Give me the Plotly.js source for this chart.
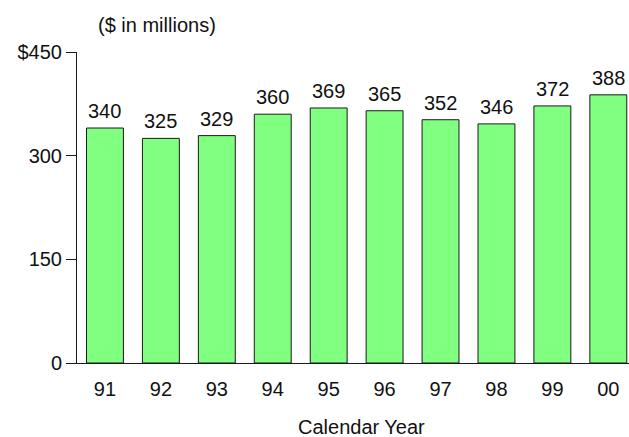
<!DOCTYPE html>
<html>
<head>
<meta charset="utf-8">
<script src="https://cdn.plot.ly/plotly-3.0.1.min.js"></script>
<style>
  html, body { margin: 0; padding: 0; background: #ffffff; }
  #chart { width: 629px; height: 437px; }
</style>
</head>
<body>
<div id="chart"></div>
<script>
// Annual amounts by calendar year ($ in millions)
var years = ['91', '92', '93', '94', '95', '96', '97', '98', '99', '00'];
var amounts = [340, 325, 329, 360, 369, 365, 352, 346, 372, 388];
var yTickVals = [0, 150, 300, 450];
var yTickText = ['0', '150', '300', '$450'];

var FONT = 'Liberation Sans, Arial, Helvetica, sans-serif';

var bars = {
  type: 'bar',
  x: years,
  y: amounts,
  width: 0.66,
  marker: { color: '#80ff80', line: { color: '#1a1a1a', width: 1 } },
  hoverinfo: 'x+y'
};

// value labels sitting just above each bar (x given as category index,
// since the year strings look numeric)
var labels = years.map(function (yr, i) {
  return {
    x: i, y: amounts[i], xref: 'x', yref: 'y',
    text: String(amounts[i]),
    showarrow: false, yanchor: 'bottom', yshift: 4,
    font: { family: FONT, size: 20, color: '#111111' }
  };
});

// x-axis caption below the year labels
labels.push({
  text: 'Calendar Year',
  xref: 'paper', yref: 'paper',
  x: 0.5145, y: -0.206,
  xanchor: 'center', yanchor: 'middle',
  showarrow: false,
  font: { family: FONT, size: 20, color: '#111111' }
});

var layout = {
  width: 629,
  height: 437,
  margin: { l: 77, r: 0, t: 52, b: 74 },
  paper_bgcolor: '#ffffff',
  plot_bgcolor: '#ffffff',
  font: { family: FONT, size: 20, color: '#111111' },
  showlegend: false,
  bargap: 0.34,
  title: {
    text: '($ in millions)',
    xref: 'container', yref: 'container',
    x: 98 / 629, xanchor: 'left',
    y: 1 - 25 / 437, yanchor: 'middle',
    font: { family: FONT, size: 20, color: '#111111' }
  },
  xaxis: {
    type: 'category',
    range: [-0.5, 9.37],
    showline: true, linecolor: '#1a1a1a', linewidth: 1,
    ticks: 'outside', ticklen: 8, tickcolor: 'rgba(0,0,0,0)',
    showgrid: false, zeroline: false,
    tickfont: { family: FONT, size: 20, color: '#111111' }
  },
  yaxis: {
    range: [0, 450],
    tickvals: yTickVals,
    ticktext: yTickText,
    showline: true, linecolor: '#1a1a1a', linewidth: 1,
    ticks: 'outside', ticklen: 10, tickcolor: '#1a1a1a', tickwidth: 1,
    showgrid: false, zeroline: false,
    tickfont: { family: FONT, size: 20, color: '#111111' }
  },
  annotations: labels
};

Plotly.newPlot('chart', [bars], layout, { displayModeBar: false, staticPlot: true });
</script>
</body>
</html>
